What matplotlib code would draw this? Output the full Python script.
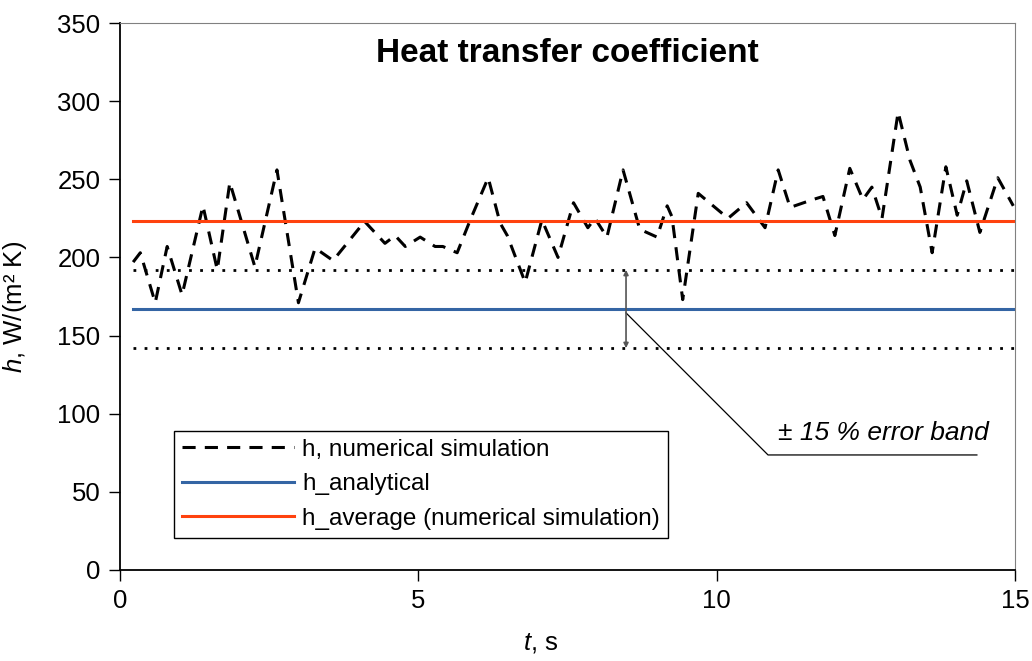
import matplotlib
matplotlib.use("Agg")
import matplotlib.pyplot as plt

plt.rcParams['font.family'] = ['Liberation Sans', 'DejaVu Sans']
plt.rcParams['mathtext.fontset'] = 'custom'
plt.rcParams['mathtext.rm'] = 'Liberation Sans'
plt.rcParams['mathtext.it'] = 'Liberation Sans:italic'

# time [s] and numerical h [W/(m2 K)]
t_num = [0.22, 0.34, 0.59, 0.79, 1.04, 1.39, 1.63, 1.84, 2.26, 2.63,
         2.99, 3.27, 3.57, 4.10, 4.44, 4.61, 4.78, 5.03, 5.28, 5.41,
         5.65, 5.87, 6.17, 6.37, 6.49, 6.79, 7.07, 7.34, 7.60, 7.84,
         7.96, 8.16, 8.43, 8.71, 9.00, 9.17, 9.25, 9.43, 9.69, 10.19,
         10.50, 10.81, 11.03, 11.23, 11.61, 11.78, 11.98, 12.23, 12.45, 12.60,
         12.77, 13.04, 13.24, 13.41, 13.61, 13.84, 14.03, 14.19, 14.41, 14.71,
         14.97]
h_num = [197, 203, 171, 207, 176, 233, 192, 248, 194, 256,
         171, 206, 198, 223, 209, 214, 207, 213, 207, 207,
         203, 224, 251, 222, 214, 184, 224, 200, 235, 219,
         225, 213, 256, 218, 213, 233, 226, 173, 241, 225,
         235, 219, 256, 232, 237, 239, 214, 257, 237, 245,
         225, 293, 262, 245, 203, 258, 227, 249, 216, 251,
         233]

h_analytical = 167
h_average = 223
band = 0.15
t_range = [0.22, 15]

band_hi = h_analytical * (1 + band)
band_lo = h_analytical * (1 - band)

fig = plt.figure(figsize=(10.32, 6.61), dpi=100)
ax = fig.add_axes([0.1163, 0.1377, 0.8673, 0.8275])

ax.plot(t_num, h_num, color='black', lw=2.2, dashes=(4.3, 3),
        label='h, numerical simulation')
ax.plot(t_range, [h_analytical] * 2, color='#3465a4', lw=2.2, label='h_analytical')
ax.plot(t_range, [h_average] * 2, color='#ff420e', lw=2.2,
        label='h_average (numerical simulation)')
ax.plot(t_range, [band_hi] * 2, color='black', lw=2, linestyle=(0, (1, 3)))
ax.plot(t_range, [band_lo] * 2, color='black', lw=2, linestyle=(0, (1, 3)))

# error band annotation
ax.annotate('', xy=(8.48, band_hi), xytext=(8.48, band_lo),
            arrowprops=dict(arrowstyle='<|-|>', color='#555555', lw=1.2,
                            mutation_scale=7, shrinkA=0, shrinkB=0))
ax.plot([8.48, 10.86, 14.36], [164.5, 73.6, 73.6], color='black', lw=0.9)
ax.text(11.03, 87.5, '± 15 % error band', fontsize=19, style='italic',
        ha='left', va='center')

ax.set_xlim(0, 15)
ax.set_ylim(0, 350)
ax.set_xticks([0, 5, 10, 15])
ax.set_yticks(range(0, 351, 50))
ax.tick_params(direction='out', length=8, width=1, labelsize=18.5, pad=6)

for side in ['top', 'right']:
    ax.spines[side].set_color('#808080')
for side in ['left', 'bottom']:
    ax.spines[side].set_color('black')
    ax.spines[side].set_linewidth(1.3)

ax.set_xlabel('$\\it{t}$, s', fontsize=18.5)
ax.xaxis.set_label_coords(0.47, -0.112)
ax.set_ylabel('$\\it{h}$, W/(m² K)', fontsize=18.5)
ax.yaxis.set_label_coords(-0.102, 0.48)

ax.text(0.5, 0.945, 'Heat transfer coefficient', transform=ax.transAxes,
        ha='center', va='center', fontsize=24, fontweight='bold')

leg = ax.legend(loc='lower left', bbox_to_anchor=(0.060, 0.0585), fontsize=17.5,
                frameon=True, fancybox=False, framealpha=1, edgecolor='black',
                handlelength=4.6, borderaxespad=0, labelspacing=0.51,
                handletextpad=0.35, borderpad=0.34)
leg.get_frame().set_linewidth(1)

fig.savefig('out.png', dpi=100)
